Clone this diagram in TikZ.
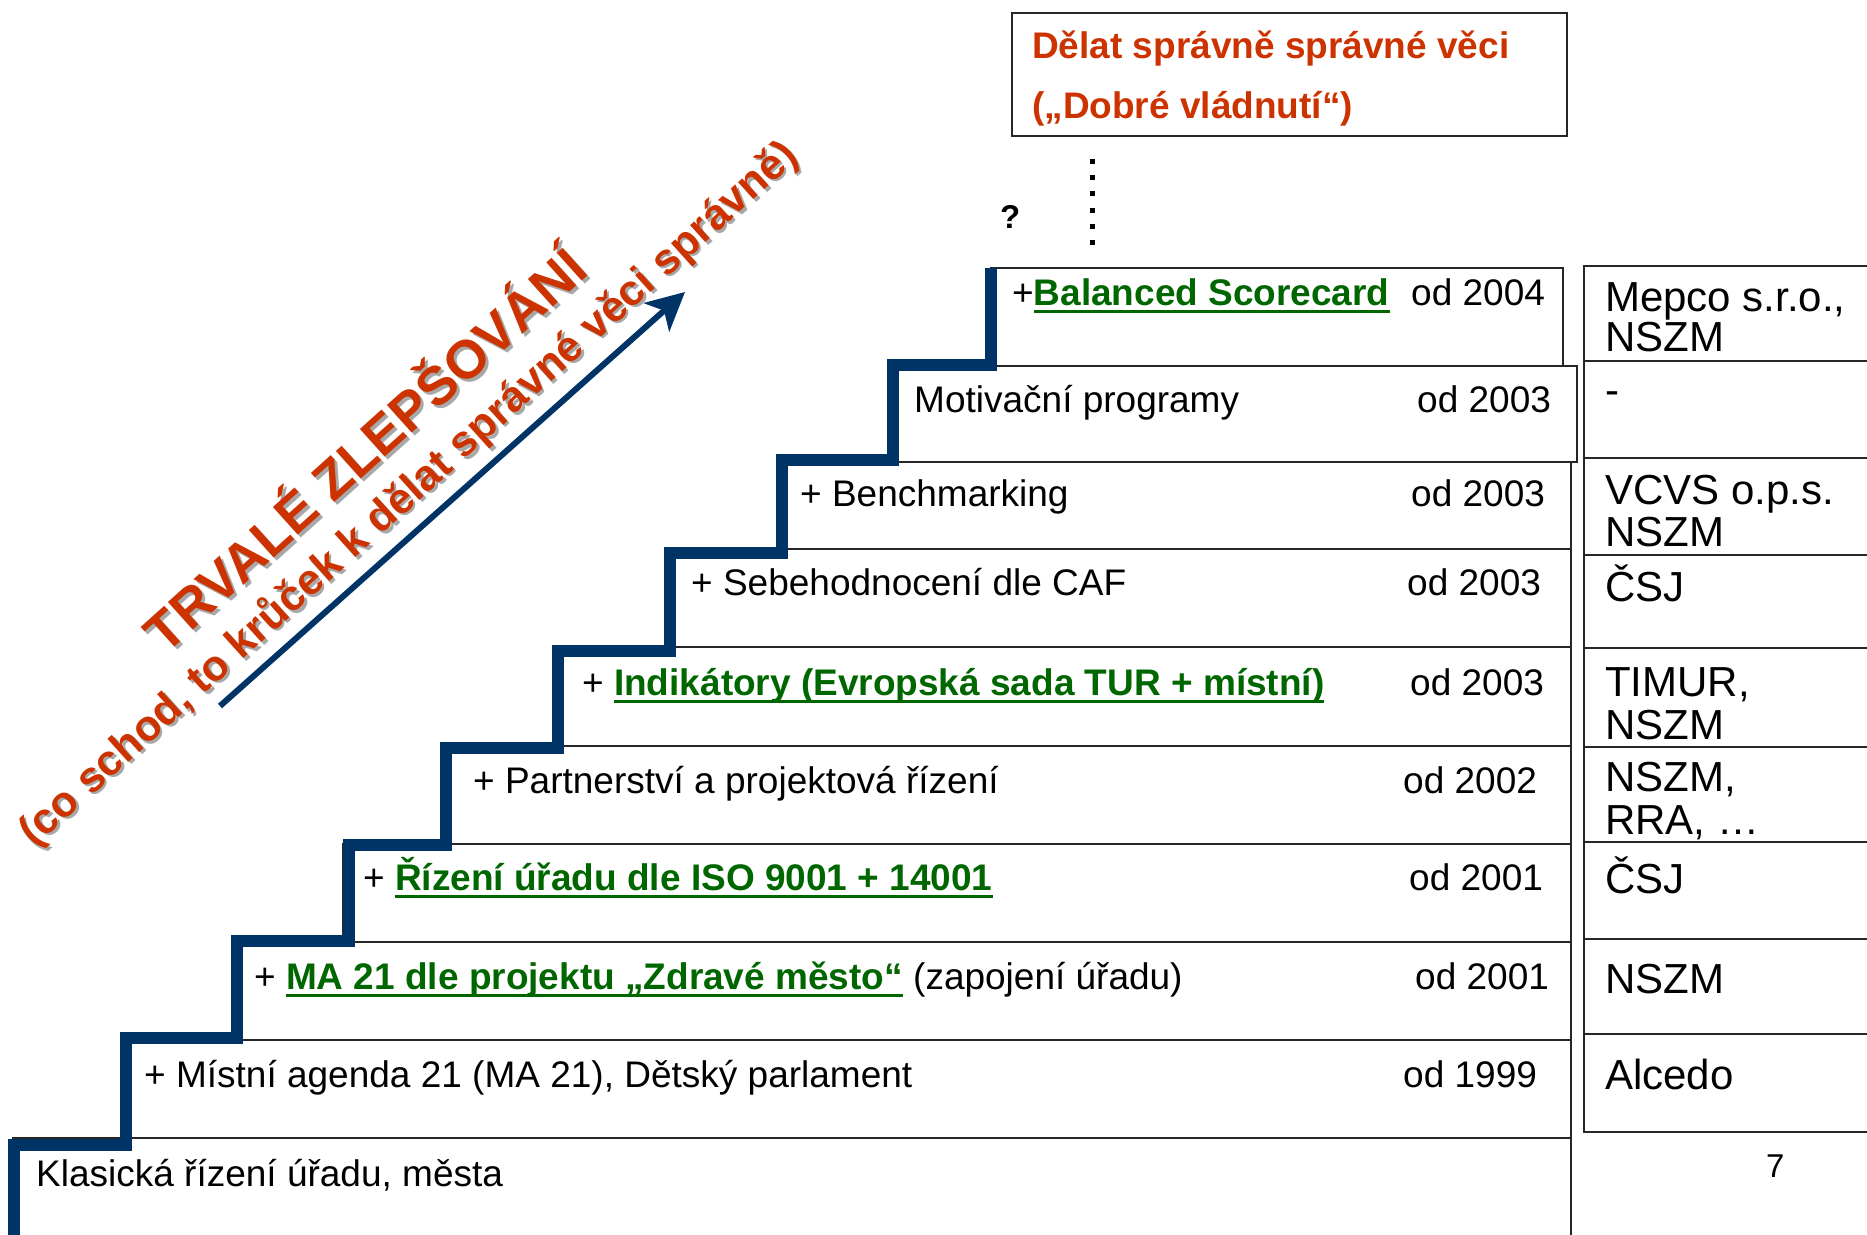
\documentclass[tikz,border=0pt]{standalone}
\usepackage{fontspec}
\setmainfont{Liberation Sans}
\usetikzlibrary{arrows.meta}
\definecolor{navy}{HTML}{003366}
\definecolor{rust}{HTML}{CC3300}
\definecolor{dgreen}{HTML}{006600}
\definecolor{shade}{HTML}{A8A8A8}
\newbox\myulbox
\newcommand\greenul[1]{{\color{dgreen}\bfseries\setbox\myulbox\hbox{#1}\rlap{\rule[-7.5pt]{\wd\myulbox}{2.8pt}}\box\myulbox}}
\tikzset{
  rowtxt/.style={anchor=base west, inner sep=0pt, font=\fontsize{37}{40}\selectfont},
  rctxt/.style={anchor=base west, inner sep=0pt, font=\fontsize{42}{40}\selectfont},
  rowbox/.style={draw=black!85, line width=2pt},
  stair/.style={draw=navy, line width=12pt, line join=miter},
  bigtitle/.style={font=\bfseries\fontsize{54}{54}\selectfont, rotate=42, anchor=base, inner sep=0pt},
  subtitle/.style={font=\bfseries\fontsize{43}{43}\selectfont, rotate=42, anchor=base, inner sep=0pt},
  goaltxt/.style={anchor=base west, inner sep=0pt, text=rust, font=\bfseries\fontsize{37}{40}\selectfont},
}
\begin{document}
\begin{tikzpicture}[x=1pt,y=-1pt]
\useasboundingbox (0,0) rectangle (1867,1234);
\clip (0,0) rectangle (1867,1234);
\fill[white] (0,0) rectangle (1867,1234);

% goal box
\node[draw=black!85, line width=2pt, minimum width=555pt, minimum height=123pt, anchor=north west, inner sep=0pt] (goal) at (1011,12) {};
\node[goaltxt] (goal1) at (1032,58) {Dělat správně správné věci};
\node[goaltxt] (goal2) at (1032,118) {(„Dobré vládnutí“)};
\node[anchor=base west, inner sep=0pt, font=\bfseries\fontsize{33}{36}\selectfont] (qmark) at (1000,228) {?};
\coordinate (dotA) at (1092,159);
\coordinate (dotB) at (1092,246);
\draw[line width=5pt, dash pattern=on 5pt off 11.2pt] (dotA) -- (dotB);

% left row boxes
\draw[rowbox] (991,268) rectangle (1563,366);
\draw[rowbox] (893,366) rectangle (1577,462);
\draw[rowbox] (782,462) rectangle (1571,549);
\draw[rowbox] (670,549) rectangle (1571,647);
\draw[rowbox] (558,647) rectangle (1571,746);
\draw[rowbox] (446,746) rectangle (1571,844);
\draw[rowbox] (343,844) rectangle (1571,942);
\draw[rowbox] (237,942) rectangle (1571,1040);
\draw[rowbox] (123,1040) rectangle (1571,1138);
\draw[rowbox] (13,1138) rectangle (1571,1260);

% right column boxes
\foreach \a/\b in {266/361,361/458,458/555,555/648,648/747,747/842,842/939,939/1034,1034/1132}
  \draw[rowbox] (1584,\a) rectangle (1900,\b);

% staircase
\draw[stair] (14,1245) -- (14,1145) -- (126,1145) -- (126,1038) -- (237,1038) -- (237,941)
  -- (349,941) -- (349,845) -- (446,845) -- (446,748) -- (558,748) -- (558,651)
  -- (670,651) -- (670,553) -- (782,553) -- (782,460) -- (893,460) -- (893,365)
  -- (991,365) -- (991,268);

% row texts
\node[rowtxt] (r1) at (1012,305) {+\greenul{Balanced Scorecard}};
\node[rowtxt] (d1) at (1411,305) {od 2004};
\node[rowtxt] (r2) at (914,412) {Motivační programy};
\node[rowtxt] (d2) at (1417,412) {od 2003};
\node[rowtxt] (r3) at (800,506) {+ Benchmarking};
\node[rowtxt] (d3) at (1411,506) {od 2003};
\node[rowtxt] (r4) at (691,595) {+ Sebehodnocení dle CAF};
\node[rowtxt] (d4) at (1407,595) {od 2003};
\node[rowtxt] (r5) at (582,695) {+ \greenul{Indikátory (Evropská sada TUR + místní)}};
\node[rowtxt] (d5) at (1410,695) {od 2003};
\node[rowtxt] (r6) at (473,793) {+ Partnerství a projektová řízení};
\node[rowtxt] (d6) at (1403,793) {od 2002};
\node[rowtxt] (r7) at (363,890) {+ \greenul{Řízení úřadu dle ISO 9001 + 14001}};
\node[rowtxt] (d7) at (1409,890) {od 2001};
\node[rowtxt] (r8) at (254,989) {+ \greenul{MA 21 dle projektu „Zdravé město“} (zapojení úřadu)};
\node[rowtxt] (d8) at (1415,989) {od 2001};
\node[rowtxt] (r9) at (144,1087) {+ Místní agenda 21 (MA 21), Dětský parlament};
\node[rowtxt] (d9) at (1403,1087) {od 1999};
\node[rowtxt] (r10) at (36,1186) {Klasická řízení úřadu, města};

% right column texts
\node[rctxt] (c1a) at (1605,311) {Mepco s.r.o.,};
\node[rctxt] (c1b) at (1605,351) {NSZM};
\node[rctxt] (c2) at (1605,404) {-};
\node[rctxt] (c3a) at (1605,504) {VCVS o.p.s.};
\node[rctxt] (c3b) at (1605,546) {NSZM};
\node[rctxt] (c4) at (1605,601) {ČSJ};
\node[rctxt] (c5a) at (1605,696) {TIMUR,};
\node[rctxt] (c5b) at (1605,739) {NSZM};
\node[rctxt] (c6a) at (1605,791) {NSZM,};
\node[rctxt] (c6b) at (1605,834) {RRA, …};
\node[rctxt] (c7) at (1605,893) {ČSJ};
\node[rctxt] (c8) at (1605,993) {NSZM};
\node[rctxt] (c9) at (1605,1089) {Alcedo};
\node[anchor=base west, inner sep=0pt, font=\fontsize{33}{36}\selectfont] (pgno) at (1766,1177) {7};

% rotated titles
\node[bigtitle, text=shade] (titleshadow) at (381,467) {TRVALÉ ZLEPŠOVÁNÍ};
\node[bigtitle, text=rust] (title) at (378,464) {TRVALÉ ZLEPŠOVÁNÍ};
\node[subtitle, text=shade] (subshadow) at (419.5,505.5) {(co schod, to krůček k dělat správné věci správně)};
\node[subtitle, text=rust] (subtitle) at (417,503) {(co schod, to krůček k dělat správné věci správně)};

% arrow
\coordinate (arrS) at (220,706);
\coordinate (arrE) at (685,292);
\draw[navy, line width=6pt, -{Stealth[length=38pt,width=38pt,inset=10pt]}] (arrS) -- (arrE);
\end{tikzpicture}
\end{document}
